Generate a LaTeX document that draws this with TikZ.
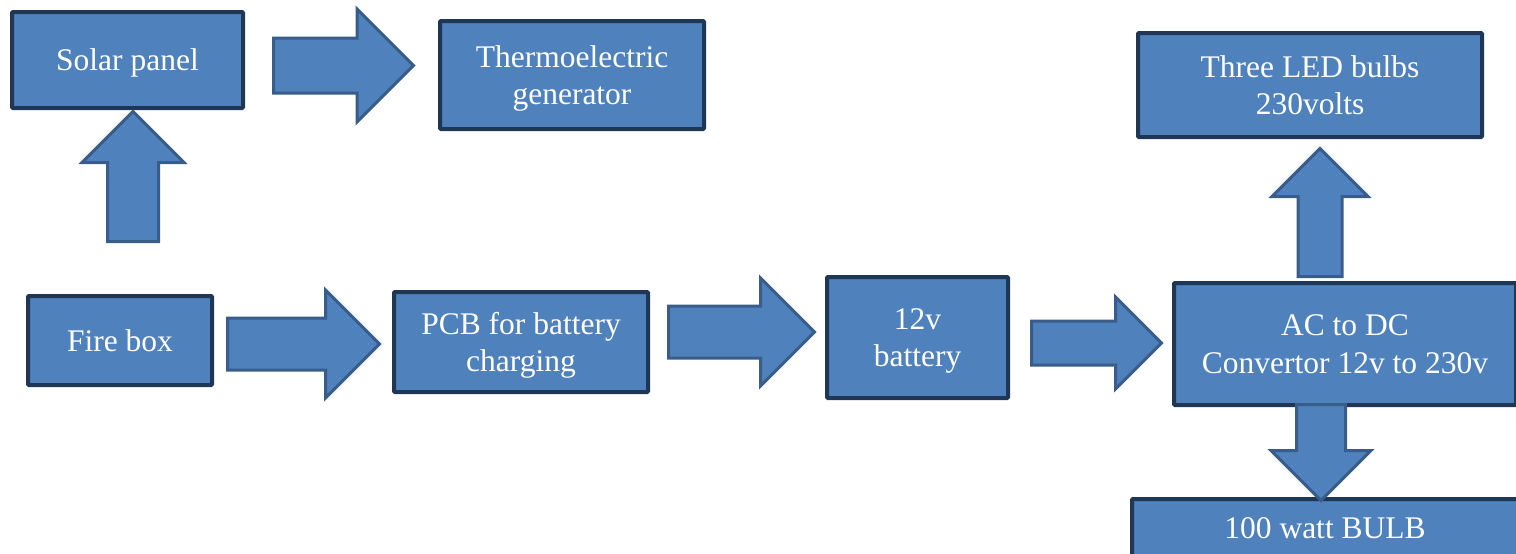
\documentclass[tikz,border=0pt]{standalone}
\usepackage{fontspec}
\setmainfont{Liberation Serif}
\usetikzlibrary{shapes.arrows}
\definecolor{boxfill}{HTML}{4F81BD}
\definecolor{boxline}{HTML}{1F3754}
\definecolor{arrowline}{HTML}{385D8A}

\begin{document}
\begin{tikzpicture}[
    x=1pt, y=-1pt,
    block/.style={draw=boxline, line width=4pt, fill=boxfill, text=white, align=center,
        font=\fontsize{31.5}{37.5}\selectfont, inner sep=0pt, text depth=0pt, rounded corners=1pt},
    flow/.style n args={3}{single arrow, draw=arrowline, line width=3pt, fill=boxfill,
        anchor=tail, inner xsep=0pt, inner ysep={(#2-3)/2},
        single arrow head extend={(#3-#2)/2}, single arrow head indent=0pt,
        minimum height={#1-3}}
]

\clip (0,0) rectangle (1516,554);

% Boxes
\node[block, minimum width=231, minimum height=96] (solar) at (127.5,60) {Solar panel};
\node[block, minimum width=264, minimum height=108] (thermo) at (572,75) {Thermoelectric\\generator};
\node[block, minimum width=184, minimum height=89] (fire) at (120,340.5) {Fire box};
\node[block, minimum width=254, minimum height=100] (pcb) at (521,342) {PCB for battery\\charging};
\node[block, minimum width=181, minimum height=121] (battery) at (917.5,337.5) {12v\\battery};
\node[block, minimum width=342, minimum height=122] (conv) at (1345,344) {AC to DC\\Convertor 12v to 230v};
\node[block, minimum width=344, minimum height=104] (led) at (1310,85) {Three LED bulbs\\230volts};
\node[block, minimum width=386, minimum height=58] (bulb) at (1325,528) {100 watt BULB};

% Block arrows
\node[flow={133}{51}{102}, rotate=90] (fireToSolar) at (133,243) {};
\node[flow={143}{55}{113}] (solarToThermo) at (272,65.5) {};
\node[flow={155}{52}{108}] (fireToPcb) at (226,344) {};
\node[flow={149}{52}{108}] (pcbToBattery) at (667,332) {};
\node[flow={133}{44}{92}] (batteryToConv) at (1030,343) {};
\node[flow={131}{44}{96}, rotate=90] (convToLed) at (1320,278) {};
\node[flow={99}{49}{100}, rotate=-90] (convToBulb) at (1321,403) {};

\end{tikzpicture}
\end{document}
